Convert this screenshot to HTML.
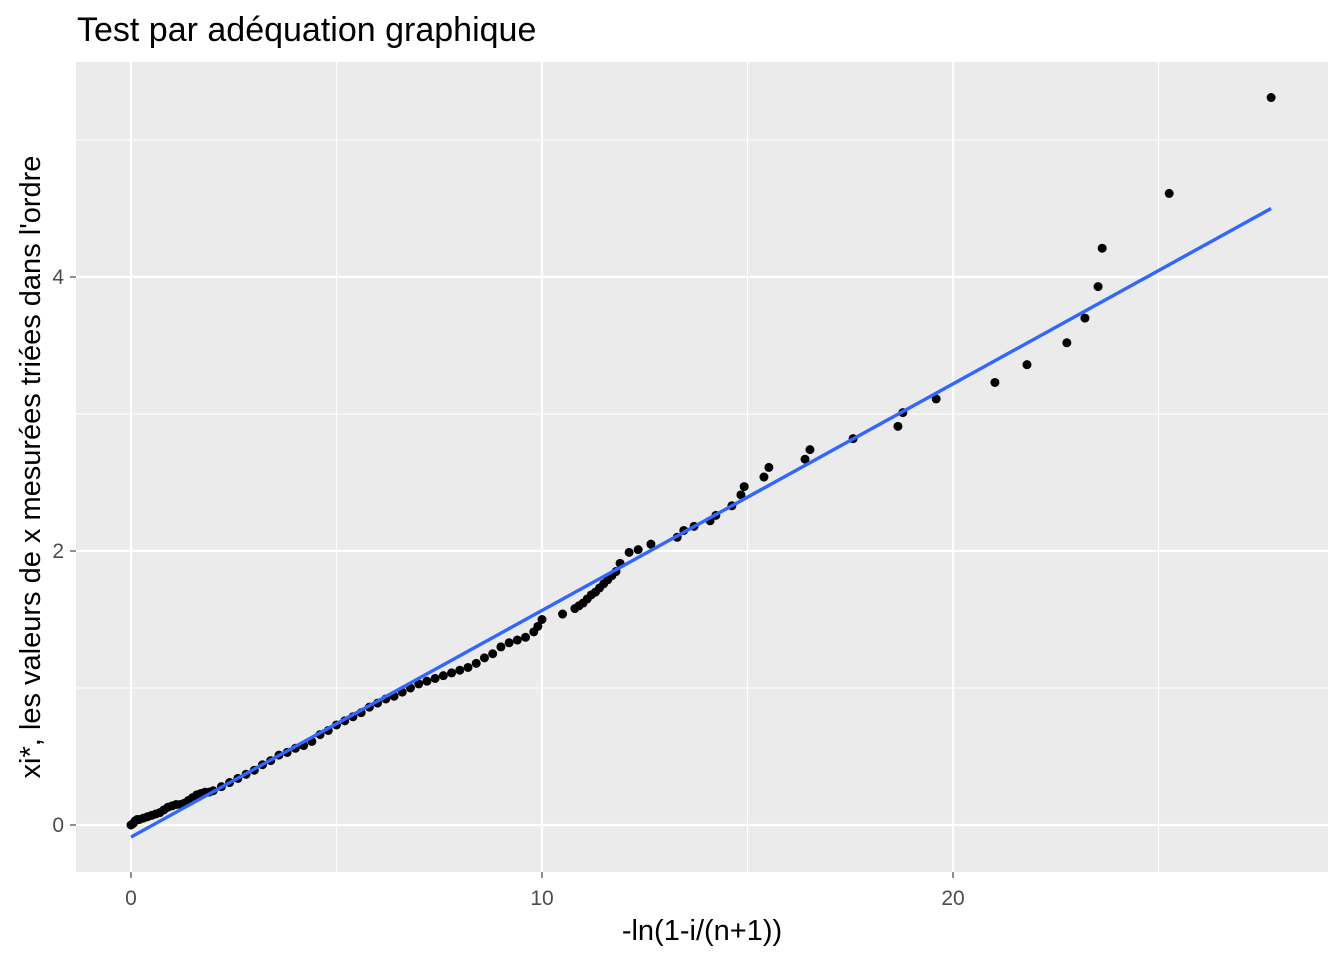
<!DOCTYPE html>
<html><head><meta charset="utf-8"><style>
body{margin:0;background:#fff;}
svg text{font-family:"Liberation Sans",sans-serif;}
</style></head><body>
<svg id="c" width="1344" height="960" xmlns="http://www.w3.org/2000/svg">
<text x="77" y="41" font-size="34" fill="#000">Test par adéquation graphique</text>
<rect x="76" y="62" width="1252" height="810" fill="#ebebeb"/>
<g id="grid"></g><g id="pts"></g><g id="fit"></g><g id="axes"></g>
<text x="702" y="940" font-size="29" text-anchor="middle" fill="#000">-ln(1-i/(n+1))</text>
<text transform="translate(40,467) rotate(-90)" font-size="29" text-anchor="middle" fill="#000">xi*, les valeurs de x mesurées triées dans l'ordre</text>
</svg>
<script>
const xs=[0,0.05,0.1,0.15,0.2,0.3,0.4,0.5,0.6,0.7,0.8,0.9,1.0,1.1,1.2,1.3,1.4,1.5,1.6,1.7,1.8,1.9,2.0,2.2,2.4,2.6,2.8,3.0,3.2,3.4,3.6,3.8,4.0,4.2,4.4,4.6,4.8,5.0,5.2,5.4,5.6,5.8,6.0,6.2,6.4,6.6,6.8,7.0,7.2,7.4,7.6,7.8,8.0,8.2,8.4,8.6,8.8,9.0,9.2,9.4,9.6,9.8,9.9,10.0,10.5,10.8,10.9,11.0,11.1,11.2,11.3,11.4,11.5,11.6,11.7,11.8,11.9,12.12,12.34,12.65,13.29,13.45,13.7,14.09,14.23,14.62,14.84,14.92,15.4,15.52,16.4,16.52,17.57,18.66,18.78,19.59,21.02,21.8,22.77,23.21,23.53,23.63,25.26,27.74];
const ys=[0.0,0.01,0.03,0.04,0.04,0.05,0.06,0.07,0.08,0.09,0.11,0.13,0.14,0.15,0.15,0.16,0.18,0.2,0.22,0.23,0.24,0.24,0.25,0.28,0.31,0.34,0.37,0.4,0.44,0.47,0.51,0.53,0.56,0.58,0.61,0.66,0.69,0.73,0.76,0.79,0.82,0.86,0.89,0.92,0.94,0.97,1.0,1.03,1.05,1.07,1.09,1.11,1.13,1.15,1.18,1.22,1.25,1.3,1.33,1.35,1.37,1.41,1.45,1.5,1.54,1.58,1.6,1.62,1.65,1.68,1.7,1.73,1.76,1.79,1.82,1.85,1.91,1.99,2.01,2.05,2.1,2.15,2.18,2.22,2.26,2.33,2.41,2.47,2.54,2.61,2.67,2.74,2.82,2.91,3.01,3.11,3.23,3.36,3.52,3.7,3.93,4.21,4.61,5.31];
const fitX=[0,27.74];
const fitY=[-0.088,4.50];
const xTicks=[0,10,20];
const yTicks=[0,2,4];
const xMinor=[5,15,25];
const yMinor=[1,3,5];
const X=v=>131+v*41.1, Y=v=>825-v*137;
const NS="http://www.w3.org/2000/svg";
function mk(tag,at,parent){const e=document.createElementNS(NS,tag);for(const k in at)e.setAttribute(k,at[k]);document.getElementById(parent).appendChild(e);return e;}
const g='grid';
xMinor.forEach(v=>{
 const e=mk('line',{x1:X(v),x2:X(v),y1:62,y2:872,stroke:'#fff','stroke-width':1.1},g);
 
 });
yMinor.forEach(v=>{
 const e=mk('line',{x1:76,x2:1328,y1:Y(v),y2:Y(v),stroke:'#fff','stroke-width':1.1},g);
 
 });
xTicks.forEach(v=>{
 const e=mk('line',{x1:X(v),x2:X(v),y1:62,y2:872,stroke:'#fff','stroke-width':2.2},g);
 
 });
yTicks.forEach(v=>{
 const e=mk('line',{x1:76,x2:1328,y1:Y(v),y2:Y(v),stroke:'#fff','stroke-width':2.2},g);
 
 });
for(let i=0;i<xs.length;i++){
 const e=mk('circle',{cx:X(xs[i]),cy:Y(ys[i]),r:4.5,fill:'#000'},'pts');
 
 }
const l=mk('line',{x1:X(fitX[0]),y1:Y(fitY[0]),x2:X(fitX[1]),y2:Y(fitY[1]),stroke:'#3366ff','stroke-width':3.4},'fit');


xTicks.forEach(v=>{
 const t=mk('line',{x1:X(v),x2:X(v),y1:872,y2:878,stroke:'#333','stroke-width':1.1},'axes');
 
 
 const e=mk('text',{x:X(v),y:905,'font-size':21,'text-anchor':'middle',fill:'#4d4d4d'},'axes');e.textContent=v;
 
 });
yTicks.forEach(v=>{
 const t=mk('line',{x1:70,x2:76,y1:Y(v),y2:Y(v),stroke:'#333','stroke-width':1.1},'axes');
 
 
 const e=mk('text',{x:64,y:Y(v)+7,'font-size':21,'text-anchor':'end',fill:'#4d4d4d'},'axes');e.textContent=v;
 
 });
</script>
</body></html>
